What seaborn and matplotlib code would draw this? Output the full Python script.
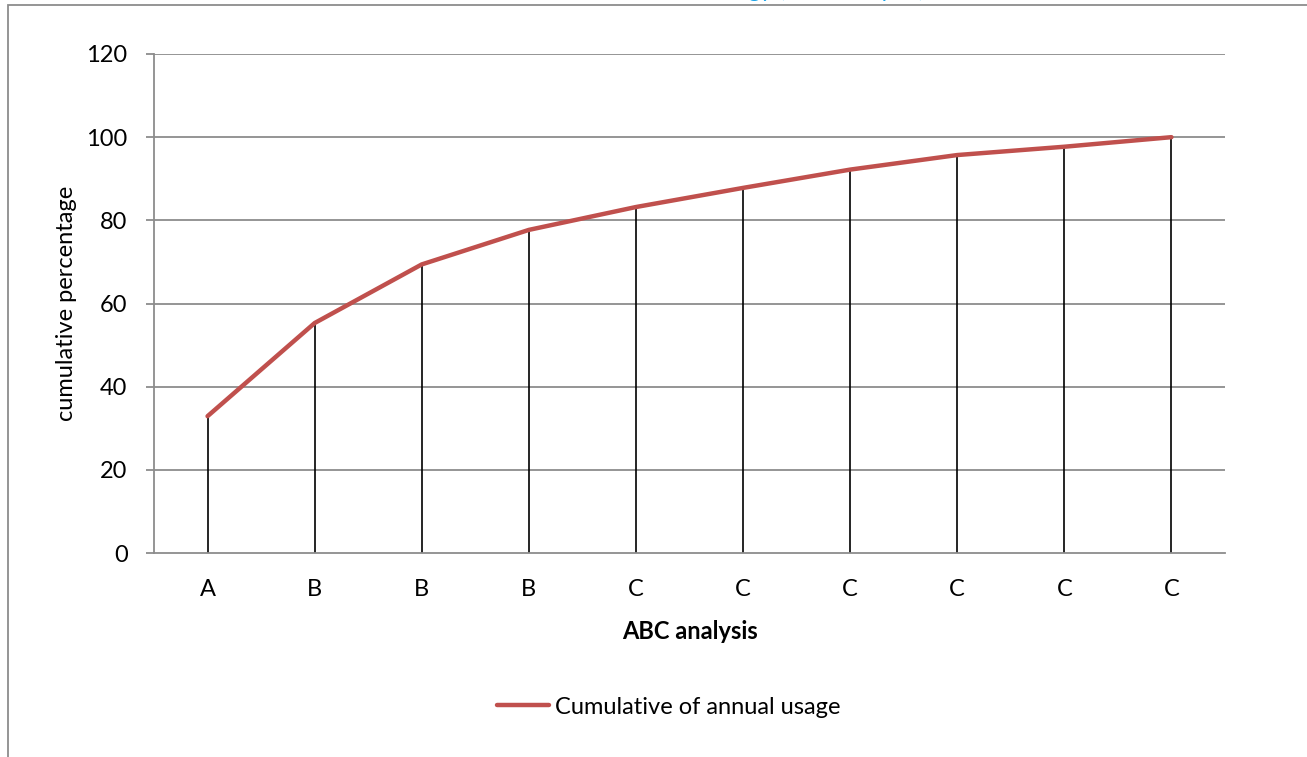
import matplotlib
matplotlib.use("Agg")
import matplotlib.pyplot as plt
import seaborn as sns
import pandas as pd
from matplotlib.patches import Rectangle

categories = ["A", "B", "B", "B", "C", "C", "C", "C", "C", "C"]
cumulative = [32.9, 55.3, 69.4, 77.7, 83.2, 87.8, 92.2, 95.7, 97.7, 100.0]
y_ticks = [0, 20, 40, 60, 80, 100, 120]

sns.set_style("white")
plt.rcParams['font.family'] = ['Lato', 'DejaVu Sans']
plt.rcParams['text.color'] = 'black'
plt.rcParams['axes.labelcolor'] = 'black'
plt.rcParams['xtick.labelcolor'] = 'black'
plt.rcParams['ytick.labelcolor'] = 'black'

df = pd.DataFrame({"pos": list(range(len(categories))), "cum": cumulative, "cat": categories})

fig = plt.figure(figsize=(13.07, 7.57), dpi=100)
fig.patch.set_facecolor("white")
# outer frame (cut off at right/bottom)
fig.patches.append(Rectangle((8/1307, -0.1), 1.2, 1 - 4.5/757 + 0.1, transform=fig.transFigure,
                             fill=False, edgecolor="#8c8c8c", linewidth=1.3, figure=fig))
# clipped title text from surrounding document
fig.text(925/1307, 1 + 3/757, "ogy (ABC analysis)", ha="right", va="baseline",
         color="#1aa3e8", fontsize=17)

ax = fig.add_axes([154/1307, 1 - 553/757, (1225 - 154)/1307, (553 - 54)/757])

for t in y_ticks[1:]:
    ax.axhline(t, color="#8c8c8c", lw=1.3, zorder=0)
ax.vlines(df["pos"], 0, df["cum"], color="black", lw=1.2, zorder=2)
sns.lineplot(data=df, x="pos", y="cum", ax=ax, color="#C0504D", lw=3.2,
             label="Cumulative of annual usage", zorder=3)

ax.set_xlim(-0.5, len(categories) - 0.5)
ax.set_ylim(0, 120)
ax.set_yticks(y_ticks)
ax.set_xticks(df["pos"])
ax.set_xticklabels(categories)

for s in ["top", "right"]:
    ax.spines[s].set_visible(False)
for s in ["left", "bottom"]:
    ax.spines[s].set_color("#8c8c8c")
    ax.spines[s].set_linewidth(1.3)

FS = 17
ax.tick_params(axis="y", left=True, length=6, width=1.3, color="#8c8c8c", pad=13,
               labelsize=FS, labelcolor="black")
ax.tick_params(axis="x", bottom=False, length=0, pad=19, labelsize=FS, labelcolor="black")

ax.set_ylabel("cumulative percentage", fontsize=FS, labelpad=7, color="black")
ax.set_xlabel("ABC analysis", fontsize=FS, fontweight="bold", labelpad=14, color="black")

leg = ax.legend(loc="center", bbox_to_anchor=(669/1307, 1 - 707/757), bbox_transform=fig.transFigure,
                frameon=False, fontsize=FS, handlelength=2.2, handletextpad=0.25)
for txt in leg.get_texts():
    txt.set_color("black")

fig.savefig("out.png", dpi=100, facecolor="white")
